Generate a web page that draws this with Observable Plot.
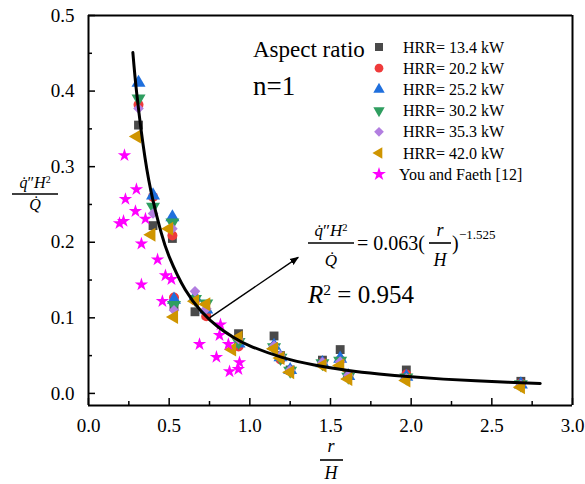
<!DOCTYPE html>
<html><head><meta charset="utf-8">
<script src="https://cdn.jsdelivr.net/npm/d3@7"></script>
<script src="https://cdn.jsdelivr.net/npm/@observablehq/plot@0.6"></script>
<style>html,body{margin:0;padding:0;background:#fff;} svg{display:block} svg text{font-family:"Liberation Serif","Times New Roman",Times,"DejaVu Serif",serif !important;}</style>
</head><body><div id="chart"></div>
<script>
// ---- data ----
const xMain = [0.31,0.40,0.52,0.53,0.66,0.73,0.93,1.15,1.19,1.25,1.45,1.56,1.61,1.97,2.68];
const hrr134 = [0.355,0.222,0.205,0.116,0.108,0.104,0.079,0.076,0.050,0.031,0.044,0.058,0.025,0.031,0.016];
const hrr202 = [0.382,0.260,0.209,0.127,0.123,0.102,0.062,0.062,0.045,0.030,0.041,0.044,0.022,0.025,0.013];
const hrr252 = [0.411,0.262,0.233,0.124,0.127,0.111,0.066,0.063,0.048,0.031,0.040,0.046,0.023,0.022,0.012];
const hrr302 = [0.390,0.247,0.226,0.117,0.125,0.119,0.068,0.061,0.047,0.030,0.040,0.043,0.022,0.021,0.012];
const hrr353 = [0.377,0.238,0.218,0.110,0.135,0.112,0.072,0.063,0.050,0.031,0.041,0.042,0.024,0.020,0.011];
const x420 = [0.30,0.39,0.50,0.53,0.66,0.73,0.89,0.93,1.15,1.19,1.25,1.45,1.56,1.61,1.97,2.68];
const hrr420 = [0.340,0.210,0.218,0.101,0.122,0.118,0.058,0.074,0.059,0.047,0.028,0.037,0.037,0.019,0.017,0.008];
const faethX = [0.223,0.297,0.229,0.291,0.353,0.192,0.217,0.328,0.428,0.477,0.514,0.328,0.458,0.818,0.812,0.688,0.867,0.793,0.936,0.929,0.874];
const faethY = [0.315,0.270,0.257,0.241,0.231,0.225,0.228,0.198,0.177,0.156,0.151,0.144,0.122,0.091,0.077,0.065,0.065,0.048,0.041,0.032,0.029];
// fitted curve q''H^2/Q = 0.063 (r/H)^-1.525
const fitX = [0.275,0.30,0.35,0.40,0.45,0.50,0.60,0.70,0.80,0.90,1.00,1.20,1.40,1.60,1.80,2.00,2.20,2.40,2.60,2.80];
const fitY = [0.451,0.395,0.312,0.255,0.213,0.181,0.137,0.1085,0.0885,0.074,0.063,0.0477,0.0377,0.0307,0.0257,0.0219,0.0189,0.0166,0.0147,0.0131];
// annotation arrow (data coordinates)
const arrowFrom = [0.75, 0.100];
const arrowTo = [1.30, 0.180];
const seriesNames = ["HRR= 13.4 kW","HRR= 20.2 kW","HRR= 25.2 kW","HRR= 30.2 kW","HRR= 35.3 kW","HRR= 42.0 kW","You and Faeth [12]"];
const seriesColors = ["#4a4a4a","#ef3b3b","#1f6fdd","#2f9e60","#b27ee0","#cf9500","#ff00ff"];
const xMajor = [0,0.5,1.0,1.5,2.0,2.5,3.0];
const xMinor = [0.25,0.75,1.25,1.75,2.25,2.75];
const yMajor = [0,0.1,0.2,0.3,0.4,0.5];
const yMinor = [0.05,0.15,0.25,0.35,0.45];
const xDomain = [0,3];
const yDomain = [-0.016,0.5];

// ---- build ----
const serif = '"Liberation Serif", "Times New Roman", Times, "DejaVu Serif", serif';
const pts = (xs, ys) => xs.map((x,i)=>({x, y: ys[i]}));
const symbolSpecs = [
  {ys: hrr134, xs: xMain, symbol:"square", r:5.0, rotate:0},
  {ys: hrr202, xs: xMain, symbol:"circle", r:5.0, rotate:0},
  {ys: hrr252, xs: xMain, symbol:"triangle", r:5.2, rotate:0},
  {ys: hrr302, xs: xMain, symbol:"triangle", r:5.2, rotate:180},
  {ys: hrr353, xs: xMain, symbol:"diamond2", r:4.8, rotate:0},
  {ys: hrr420, xs: x420, symbol:"triangle", r:5.2, rotate:-90},
  {ys: faethY, xs: faethX, symbol:"star", r:4.2, rotate:0}
];
const dotMarks = symbolSpecs.map((s,i)=>Plot.dot(pts(s.xs,s.ys), {x:"x", y:"y", symbol: s.symbol, r: s.r, rotate: s.rotate, fill: seriesColors[i], stroke: "none"}));

const svgNode = Plot.plot({
  width: 585, height: 484,
  marginLeft: 88, marginRight: 13, marginTop: 15, marginBottom: 79,
  x: {domain: xDomain}, y: {domain: yDomain},
  style: {fontFamily: serif, fontSize: "19px", color: "black", background: "white"},
  marks: [
    ...dotMarks,
    Plot.line(pts(fitX, fitY), {x:"x", y:"y", stroke:"black", strokeWidth:3, curve:"natural"}),
    Plot.link([{x1: arrowFrom[0], y1: arrowFrom[1], x2: arrowTo[0], y2: arrowTo[1]}], {x1:"x1", y1:"y1", x2:"x2", y2:"y2", stroke:"black", strokeWidth:1.4}),
    Plot.ruleX(xDomain, {stroke:"black", strokeWidth:2}),
    Plot.ruleY(yDomain, {stroke:"black", strokeWidth:2}),
    Plot.axisX({ticks: xMajor, tickFormat: d3.format(".1f"), tickSize: 0, tickPadding: 13, label: null, fontSize: 19}),
    Plot.axisX({ticks: xMajor, text: null, tickSize: -7, strokeWidth: 1.5, label: null}),
    Plot.axisX({ticks: xMinor, text: null, tickSize: -4, strokeWidth: 1.5, label: null}),
    Plot.axisY({ticks: yMajor, tickFormat: d3.format(".1f"), tickSize: 0, tickPadding: 14, label: null, fontSize: 19}),
    Plot.axisY({ticks: yMajor, text: null, tickSize: -7, strokeWidth: 1.5, label: null}),
    Plot.axisY({ticks: yMinor, text: null, tickSize: -4, strokeWidth: 1.5, label: null})
  ]
});
document.getElementById("chart").appendChild(svgNode);
const svg = d3.select(svgNode);
svg.style("font-family", serif);

// arrow head
const defs = svg.append("defs");
defs.append("marker").attr("id","ah").attr("viewBox","0 0 10 10").attr("refX",9).attr("refY",5)
  .attr("markerWidth",9).attr("markerHeight",9).attr("markerUnits","userSpaceOnUse").attr("orient","auto")
  .append("path").attr("d","M0,1 L10,5 L0,9 Z").attr("fill","black");
svg.selectAll('g[aria-label="link"] path').attr("marker-end","url(#ah)");

function addText(x, y, parts, size, anchor="start") {
  const t = svg.append("text").attr("x",x).attr("y",y).style("font-family",serif)
    .style("font-size",size+"px").attr("text-anchor",anchor).attr("fill","black");
  for (const p of parts) {
    const s = t.append("tspan").text(p.t);
    if (p.i) s.style("font-style","italic");
    if (p.sup) s.attr("baseline-shift","super").style("font-size", (size*0.62)+"px");
  }
  return t;
}
function hbar(x1, x2, y, w=1.6) {
  svg.append("line").attr("x1",x1).attr("x2",x2).attr("y1",y).attr("y2",y).attr("stroke","black").attr("stroke-width",w);
}

// y-axis label
addText(35, 188, [{t:"q\u0307",i:1},{t:"\u2033"},{t:"H",i:1},{t:"2",sup:1}], 16, "middle");
hbar(12, 58, 194);
addText(35, 210, [{t:"Q\u0307",i:1}], 16, "middle");
// x-axis label
addText(331, 452, [{t:"r",i:1}], 18, "middle");
hbar(320, 343, 460);
addText(331, 479, [{t:"H",i:1}], 18, "middle");

// annotations
addText(253, 57, [{t:"Aspect ratio"}], 23);
addText(253, 95, [{t:"n=1"}], 27);
addText(331, 236, [{t:"q\u0307",i:1},{t:"\u2033"},{t:"H",i:1},{t:"2",sup:1}], 17, "middle");
hbar(308, 354, 243);
addText(331, 266, [{t:"Q\u0307",i:1}], 17, "middle");
addText(357, 250, [{t:"= 0.063("}], 20);
addText(440, 236, [{t:"r",i:1}], 18, "middle");
hbar(429, 451, 243);
addText(440, 266, [{t:"H",i:1}], 18, "middle");
addText(452, 250, [{t:")"}], 20);
addText(459, 239, [{t:"\u22121.525"}], 13);
addText(308, 303, [{t:"R",i:1},{t:"2",sup:1},{t:" = 0.954"}], 25);

// legend
const legendSymbols = [d3.symbolSquare, d3.symbolCircle, d3.symbolTriangle, d3.symbolTriangle, d3.symbolDiamond2, d3.symbolTriangle, d3.symbolStar];
const legendRot = [0,0,0,180,0,-90,0];
const legendSize = [64,60,56,56,60,56,60];
seriesNames.forEach((name,i)=>{
  const cy = 47 + i*21.2;
  svg.append("path").attr("d", d3.symbol(legendSymbols[i], legendSize[i])())
    .attr("transform",`translate(379,${cy}) rotate(${legendRot[i]})`).attr("fill", seriesColors[i]);
  addText(i===6 ? 399 : 403, cy+5.5, [{t:name}], 16);
});
</script></body></html>
